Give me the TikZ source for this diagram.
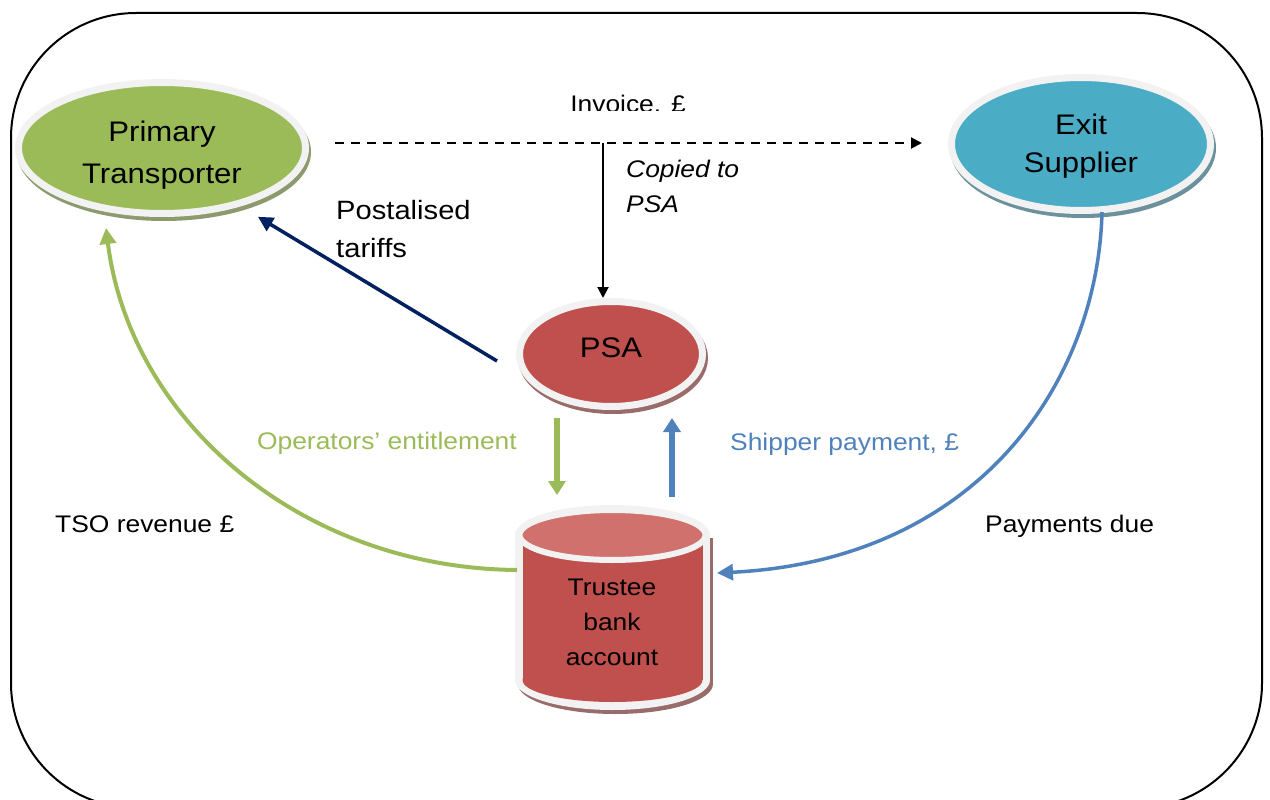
\documentclass[tikz,border=0pt]{standalone}
\usepackage{fontspec}
\setmainfont[FakeStretch=1.1]{Liberation Sans}
\usetikzlibrary{shapes.geometric,arrows.meta,shadows}
\definecolor{pgreen}{HTML}{9BBB59}
\definecolor{pteal}{HTML}{4BACC6}
\definecolor{pred}{HTML}{C0504D}
\definecolor{pcap}{HTML}{D0716E}
\definecolor{rim}{HTML}{F2F2F2}
\definecolor{pnavy}{HTML}{002060}
\definecolor{pblue}{HTML}{4F81BD}
\newcommand\stk[2]{\vtop{\baselineskip=#1\lineskiplimit=-100pt\halign{\hfil##\hfil\cr#2\crcr}}}
\newcommand\stkl[2]{\vtop{\baselineskip=#1\lineskiplimit=-100pt\halign{##\hfil\cr#2\crcr}}}
\begin{document}
\begin{tikzpicture}[x=1pt,y=-1pt,
  rimell/.style={ellipse, draw=rim, line width=7pt, inner sep=0},
  shd/.style={drop shadow={shadow xshift=2pt, shadow yshift=-4pt, fill=#1, draw=#1, line width=7pt, opacity=1}},
  lbl/.style={inner sep=0, font=\fontsize{24pt}{35pt}\selectfont},
  lbll/.style={inner sep=0, font=\fontsize{26.5pt}{38pt}\selectfont},
  lbli/.style={inner sep=0, font=\fontsize{24pt}{35pt}\selectfont\itshape},
  big/.style={inner sep=0, font=\fontsize{28.3pt}{40pt}\selectfont},
  tip/.style={-{Triangle[length=#1,width=#1]}},
]
\useasboundingbox (0,0) rectangle (1270,800);
\clip (0,0) rectangle (1270,800);
\draw[line width=2pt, rounded corners=125pt] (11,13) rectangle (1262,808);

% ellipses
\node[rimell, fill=pgreen, minimum width=287pt, minimum height=131pt, shd=pgreen!45!gray] (pt) at (162,148) {};
\node[big, anchor=base] (ptt) at (162,142) {\stk{41pt}{Primary\cr Transporter}};

\node[rimell, fill=pteal, minimum width=259pt, minimum height=133pt, shd=pteal!40!gray] (es) at (1081,144) {};
\node[big, anchor=base] (est) at (1081,134) {\stk{39pt}{Exit\cr Supplier}};

\node[rimell, fill=pred, minimum width=183pt, minimum height=105pt, shd=pred!40!gray] (psa) at (611,354) {};
\node[big, anchor=base] (psat) at (611,357) {PSA};

% cylinder
\fill[pred!40!gray] (518,538) rectangle (713,683);
\fill[pred!40!gray] (615.5,684) ellipse (97.5 and 30);
\fill[rim] (515,535) rectangle (710,680);
\fill[rim] (612.5,680) ellipse (97.5 and 30);
\fill[rim] (612.5,535) ellipse (97.5 and 30);
\fill[pred] (522.5,535) rectangle (702.5,680);
\fill[pred] (612.5,680) ellipse (90 and 22);
\draw[rim, line width=6pt, fill=pcap] (612.5,535) ellipse (93 and 25);
\node[minimum width=195pt, minimum height=207pt, inner sep=0, outer sep=0] (cyl) at (612.5,608.5) {};
\node[lbl, anchor=base] (cylt) at (612,595) {\stk{35pt}{Trustee\cr bank\cr account}};

% connectors
\coordinate (d1) at (335,143);
\coordinate (d2) at (922,143);
\coordinate (c1) at (603,143);
\draw[line width=2pt, dash pattern=on 9pt off 7pt, tip=11pt] (d1) -- (d2);
\draw[line width=2pt, tip=11pt] (c1) -- ([xshift=-8pt]psa.north);
\draw[pnavy, line width=3.5pt, tip=15pt] ([xshift=-19pt,yshift=-7pt]psa.west) -- ([xshift=-8pt,yshift=-20pt]pt.south east);
\draw[pgreen, line width=6pt, -{Triangle[length=14pt,width=17pt]}] ([xshift=-54pt,yshift=-8pt]psa.south) -- ([xshift=-55.5pt,yshift=10pt]cyl.north);
\draw[pblue, line width=6pt, -{Triangle[length=14pt,width=17pt]}] ([xshift=59.5pt,yshift=8pt]cyl.north) -- ([xshift=61pt,yshift=-8pt]psa.south);
\draw[pgreen, line width=4pt, tip=16pt] ([xshift=2pt,yshift=38.5pt]cyl.west) .. controls (300,568) and (130,420) .. ([xshift=-56pt,yshift=-11pt]pt.south);
\draw[pblue, line width=3.5pt, tip=16pt] ([xshift=21pt,yshift=2pt]es.south) .. controls (1098,380) and (980,560) .. ([xshift=7pt,yshift=35.5pt]cyl.east);

% labels
\begin{scope}
\clip (500,80) rectangle (760,110);
\node[lbl, anchor=base] (inv) at (628,112) {Invoice. £};
\end{scope}
\node[lbli, anchor=base west] (cp) at (626,177) {\stkl{35pt}{Copied to\cr PSA}};
\node[lbll, anchor=base west] (pst) at (336,219) {\stkl{38pt}{Postalised\cr tariffs}};
\node[lbl, anchor=base east, text=pgreen] (oe) at (517,449) {Operators’ entitlement};
\node[lbl, anchor=base west, text=pblue] (sp) at (730,450) {Shipper payment, £};
\node[lbl, anchor=base west] (tso) at (55,532) {TSO revenue £};
\node[lbl, anchor=base west] (pd) at (985,532) {Payments due};
\end{tikzpicture}
\end{document}
